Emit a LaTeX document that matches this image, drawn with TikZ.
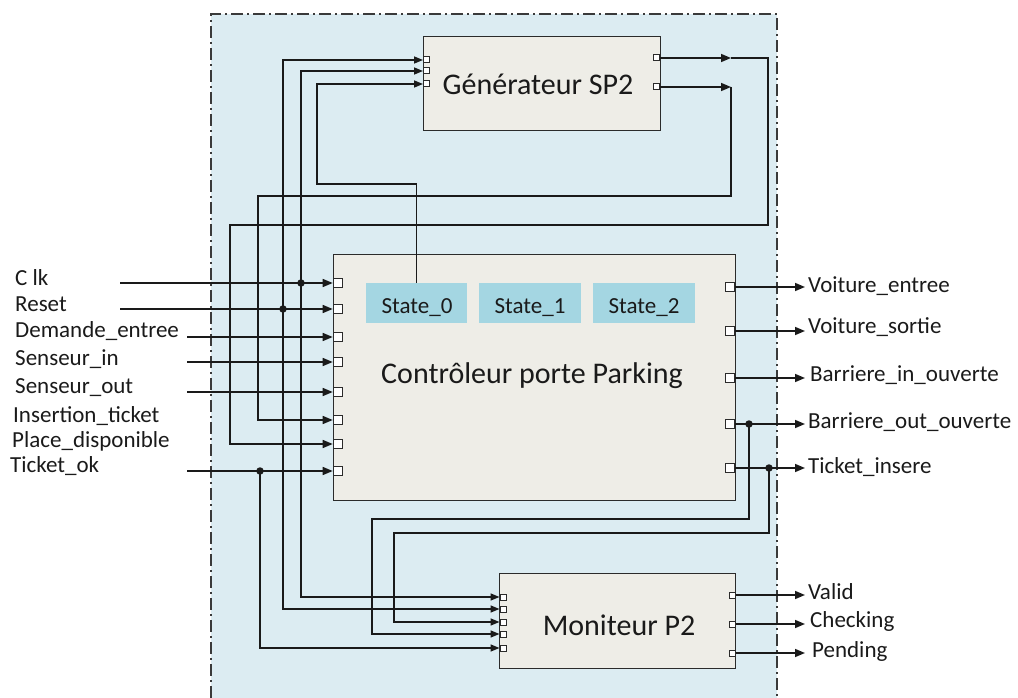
\documentclass[tikz,border=0pt]{standalone}
\usepackage{fontspec}
\setmainfont{Carlito}
\usetikzlibrary{arrows.meta}
\definecolor{lc}{HTML}{1A1A1A}
\definecolor{bc}{HTML}{2B2B2B}
\definecolor{tc}{HTML}{1A1A1A}
\definecolor{bgc}{HTML}{DCECF2}
\definecolor{boxfill}{HTML}{EEEDE7}
\definecolor{statefill}{HTML}{A4D6E2}
\definecolor{brd}{HTML}{3A3A3A}
\begin{document}
\begin{tikzpicture}[x=1pt,y=-1pt,
  ln/.style={line width=1.5pt, draw=lc},
  arr/.style={ln, -{Triangle[length=10pt,width=8pt]}},
  sarr/.style={ln, -{Triangle[length=9pt,width=7pt]}},
  box/.style={draw=bc, line width=1.4pt, fill=boxfill, inner sep=0, anchor=north west},
  cport/.style={draw=bc, fill=white, line width=1.1pt, minimum size=9.5pt, inner sep=0},
  sport/.style={draw=bc, fill=white, line width=1pt, minimum size=6pt, inner sep=0},
  lab/.style={anchor=base west, inner sep=0, font=\fontsize{23}{27}\selectfont, text=tc},
  title/.style={anchor=base, inner sep=0, font=\fontsize{30}{36}\selectfont, text=tc},
  statebox/.style={fill=statefill, minimum height=40pt, inner sep=0, anchor=north west},
  statetext/.style={anchor=base, inner sep=0, font=\fontsize{23}{27}\selectfont, text=tc},
  jdot/.style={circle, fill=lc, inner sep=0, minimum size=7.5pt},
  border/.style={draw=brd, line width=1.5pt, dash pattern=on 12pt off 4pt on 2pt off 4pt}
]
\useasboundingbox (0,0) rectangle (1018,698);
% background zone
\fill[bgc] (211,14) rectangle (777,698);
\draw[border] (211,698) -- (211,14) -- (777,14) -- (777,698);

% boxes
\node[box, minimum width=237pt, minimum height=94pt] (gen) at (423,36) {};
\node[box, minimum width=402pt, minimum height=246pt] (ctrl) at (333,254) {};
\node[box, minimum width=236pt, minimum height=95pt] (mon) at (499,573) {};
\node[title] (gent) at (538,95) {Générateur SP2};
\node[title] (ctrlt) at (532,383) {Contrôleur porte Parking};
\node[title] (mont) at (619,635) {Moniteur P2};

% states
\node[statebox, minimum width=101pt] (s0) at (366,283) {};
\node[statebox, minimum width=102pt] (s1) at (479,283) {};
\node[statebox, minimum width=102pt] (s2) at (593,283) {};
\node[statetext] (s0t) at (417,313) {State\_0};
\node[statetext] (s1t) at (530,313) {State\_1};
\node[statetext] (s2t) at (644,313) {State\_2};

% ports
\node[cport] (ci1) at (338,283) {};
\node[cport] (ci2) at (338,309) {};
\node[cport] (ci3) at (338,337) {};
\node[cport] (ci4) at (338,362) {};
\node[cport] (ci5) at (338,392) {};
\node[cport] (ci6) at (338,420) {};
\node[cport] (ci7) at (338,444) {};
\node[cport] (ci8) at (338,471) {};
\node[cport] (co1) at (730,287) {};
\node[cport] (co2) at (730,331) {};
\node[cport] (co3) at (730,378) {};
\node[cport] (co4) at (730,424) {};
\node[cport] (co5) at (730,468) {};
\node[sport] (gi1) at (426.5,60) {};
\node[sport] (gi2) at (426.5,71) {};
\node[sport] (gi3) at (426.5,84) {};
\node[sport] (go1) at (656,58) {};
\node[sport] (go2) at (656,87) {};
\node[sport] (mi1) at (503,597) {};
\node[sport] (mi2) at (503,609) {};
\node[sport] (mi3) at (503,622) {};
\node[sport] (mi4) at (503,634) {};
\node[sport] (mi5) at (503,648) {};
\node[sport] (mo1) at (732,595) {};
\node[sport] (mo2) at (732,624) {};
\node[sport] (mo3) at (732,653) {};

% coordinates
\coordinate (clkS) at (120,283);
\coordinate (rstS) at (120,309);
\coordinate (demS) at (187,337);
\coordinate (siS) at (187,362);
\coordinate (soS) at (187,392);
\coordinate (tokS) at (187,471);
\coordinate (jclk) at (301,283);
\coordinate (jrst) at (283,309);
\coordinate (jtok) at (260,471);
\coordinate (jbo) at (749,424);
\coordinate (jti) at (769,468);
\coordinate (sb) at (317,184);
\coordinate (g1a) at (731,58);
\coordinate (g1b) at (768,225);
\coordinate (g1c) at (230,225);
\coordinate (g2a) at (731,87);
\coordinate (g2b) at (258,196);
\coordinate (bo1) at (372,519);
\coordinate (ti1) at (394,533);
\coordinate (veE) at (805,287);
\coordinate (vsE) at (805,331);
\coordinate (biE) at (805,378);
\coordinate (boE) at (805,424);
\coordinate (tiE) at (805,468);
\coordinate (vaE) at (805,595);
\coordinate (chE) at (805,624);
\coordinate (peE) at (805,653);

% connectors
\draw[arr] (clkS) -- (ci1.west);
\draw[arr] (rstS) -- (ci2.west);
\draw[arr] (demS) -- (ci3.west);
\draw[arr] (siS) -- (ci4.west);
\draw[arr] (soS) -- (ci5.west);
\draw[arr] (tokS) -- (ci8.west);
\draw[sarr] (jclk) |- (gi2.west);
\draw[sarr] (jclk) |- (mi1.west);
\draw[sarr] (jrst) |- (gi1.west);
\draw[sarr] (jrst) |- (mi2.west);
\draw[sarr] (jtok) |- (mi5.west);
\draw[sarr] (s0.north) |- (sb) |- (gi3.west);
\draw[arr] (go1.east) -- (g1a);
\draw[arr] (g1a) -| (g1b) -- (g1c) |- (ci7.west);
\draw[arr] (go2.east) -- (g2a);
\draw[arr] (g2a) |- (g2b) |- (ci6.west);
\draw[arr] (co1.east) -- (veE);
\draw[arr] (co2.east) -- (vsE);
\draw[arr] (co3.east) -- (biE);
\draw[arr] (co4.east) -- (boE);
\draw[arr] (co5.east) -- (tiE);
\draw[sarr] (jbo) |- (bo1) |- (mi4.west);
\draw[sarr] (jti) |- (ti1) |- (mi3.west);
\draw[arr] (mo1.east) -- (vaE);
\draw[arr] (mo2.east) -- (chE);
\draw[arr] (mo3.east) -- (peE);

% junction dots
\node[jdot] (d1) at (jclk) {};
\node[jdot] (d2) at (jrst) {};
\node[jdot] (d3) at (jtok) {};
\node[jdot] (d4) at (jbo) {};
\node[jdot] (d5) at (jti) {};

% labels
\node[lab] (lclk) at (15,285) {C lk};
\node[lab] (lrst) at (15,311) {Reset};
\node[lab] (ldem) at (15,337) {Demande\_entree};
\node[lab] (lsi) at (15,365) {Senseur\_in};
\node[lab] (lso) at (15,393) {Senseur\_out};
\node[lab] (lins) at (13,422) {Insertion\_ticket};
\node[lab] (lpl) at (12,447) {Place\_disponible};
\node[lab] (ltok) at (10,472) {Ticket\_ok};
\node[lab] (lve) at (808,292) {Voiture\_entree};
\node[lab] (lvs) at (808,333) {Voiture\_sortie};
\node[lab] (lbi) at (810,381) {Barriere\_in\_ouverte};
\node[lab] (lbo) at (808,428) {Barriere\_out\_ouverte};
\node[lab] (lti) at (808,473) {Ticket\_insere};
\node[lab] (lva) at (808,599) {Valid};
\node[lab] (lch) at (810,627) {Checking};
\node[lab] (lpe) at (812,657) {Pending};
\end{tikzpicture}
\end{document}
